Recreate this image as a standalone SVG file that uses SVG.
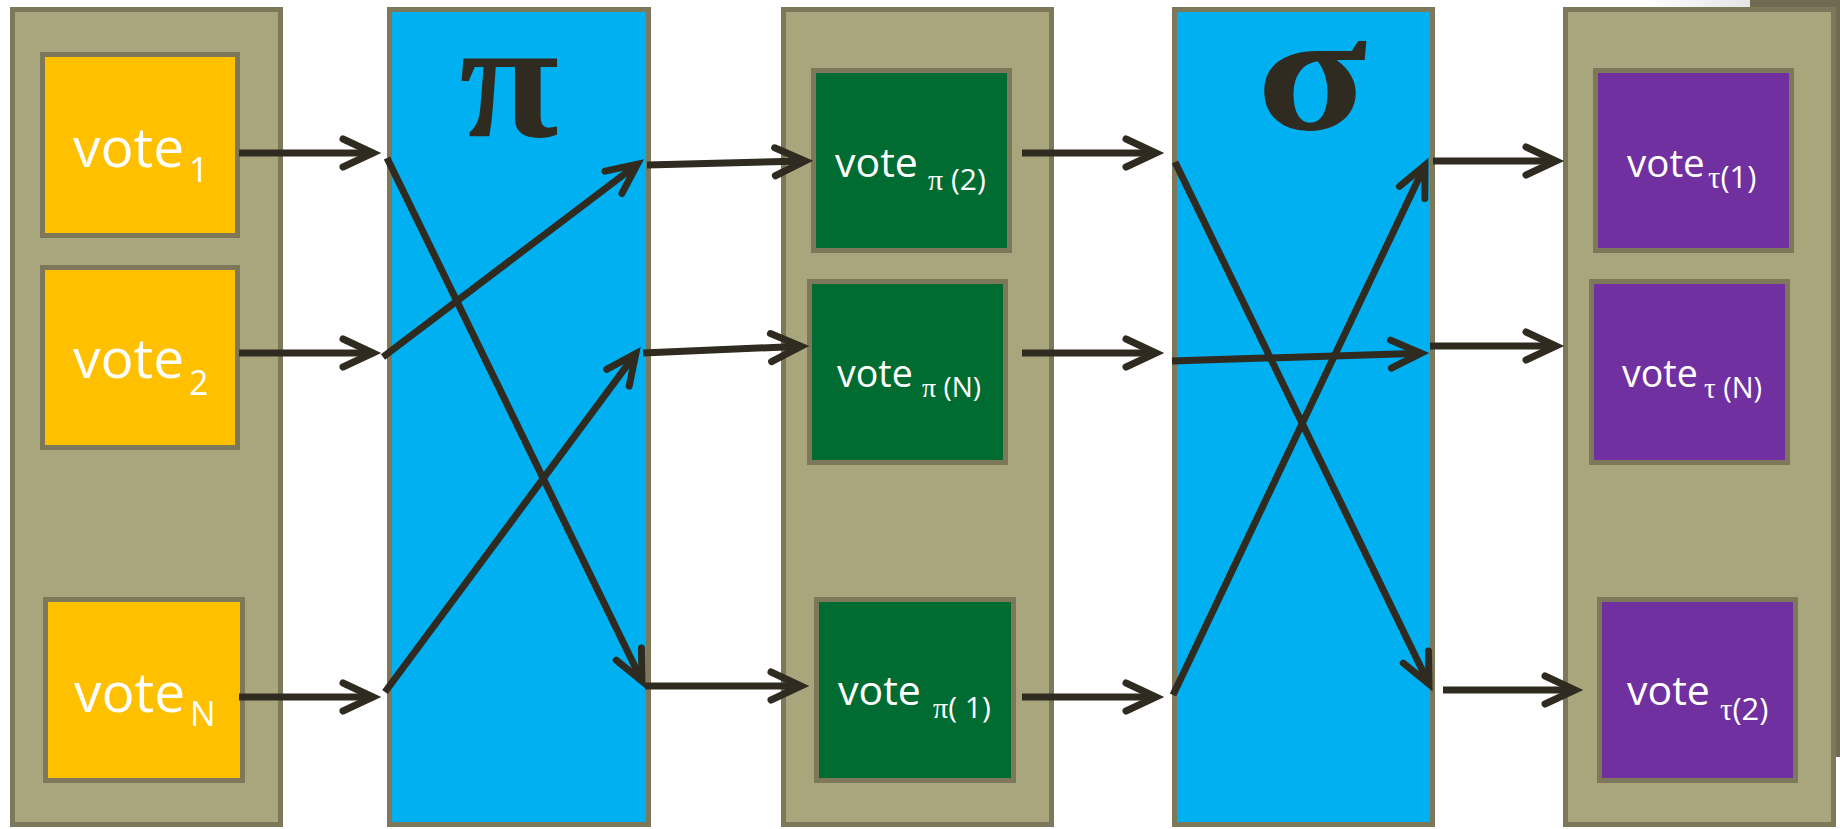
<svg xmlns="http://www.w3.org/2000/svg" width="1840" height="829" viewBox="0 0 1840 829">
  <defs>
    <style>
      .col { fill: #a9a57c; stroke: #7d785a; stroke-width: 5; }
      .perm { fill: #00b0f0; stroke: #7d785a; stroke-width: 5; }
      .box { stroke: #7d785a; stroke-width: 5; }
      .in { fill: #ffc000; }
      .mid { fill: #006c31; }
      .out { fill: #7030a0; }
      .lbl { font-family: "Open Sans", "Noto Sans", sans-serif; fill: #ffffff; }
      .big { font-size: 55px; }
      .sub1 { font-size: 34px; }
      .gk { font-family: "Liberation Serif", "DejaVu Serif", serif; }
      .sym { font-family: "Liberation Serif", "DejaVu Serif", serif; font-weight: bold; fill: #302b20; }
      .conn line { stroke: #302b20; stroke-width: 7; stroke-linecap: butt; marker-end: url(#head); }
    </style>
    <marker id="head" markerUnits="userSpaceOnUse" orient="auto" markerWidth="60" markerHeight="60" refX="0" refY="0" viewBox="-45 -30 60 60" overflow="visible">
      <path d="M-30,-14 L0,0 L-30,14" fill="none" stroke="#302b20" stroke-width="7" stroke-linecap="round" stroke-linejoin="miter"/>
    </marker>
    <linearGradient id="fade" x1="0" y1="0" x2="1" y2="0">
      <stop offset="0" stop-color="#ffffff"/>
      <stop offset="1" stop-color="#e4e4e4"/>
    </linearGradient>
  </defs>

  <rect x="0" y="0" width="1840" height="829" fill="#ffffff"/>

  <!-- backing panel behind the last column -->
  <rect x="1640" y="0" width="110" height="8" fill="url(#fade)"/>
  <rect x="1750" y="0" width="90" height="757" fill="#6f6a52"/>

  <!-- column of input votes -->
  <g id="inputs">
    <rect class="col" x="12.5" y="9.5" width="268" height="815"/>
  </g>
  <g id="vote1">
    <rect class="box in" x="42.5" y="54.5" width="195" height="181"/>
    <text class="lbl big" x="73" y="167">vote<tspan class="sub1" x="189" y="182">1</tspan></text>
  </g>
  <g id="vote2">
    <rect class="box in" x="42.5" y="267.5" width="195" height="180"/>
    <text class="lbl big" x="73" y="378">vote<tspan class="sub1" x="189" y="395">2</tspan></text>
  </g>
  <g id="voteN">
    <rect class="box in" x="45.5" y="599.5" width="197" height="181"/>
    <text class="lbl big" x="74" y="712">vote<tspan class="sub1" x="190" y="726">N</tspan></text>
  </g>

  <!-- first permutation -->
  <g id="pi">
    <rect class="perm" x="389.5" y="9.5" width="259" height="815"/>
    <text class="sym" x="509" y="136" font-size="170" text-anchor="middle" transform="translate(509 0) scale(1.07 1) translate(-509 0)">π</text>
  </g>

  <!-- column after the first permutation -->
  <g id="mixed">
    <rect class="col" x="783.5" y="9.5" width="268" height="815"/>
  </g>
  <g id="vote-pi2">
    <rect class="box mid" x="813.5" y="70.5" width="196" height="180"/>
    <text class="lbl" font-size="41" x="835" y="177">vote<tspan font-size="30" x="928" y="190"><tspan class="gk">π</tspan> (2)</tspan></text>
  </g>
  <g id="vote-piN">
    <rect class="box mid" x="809.5" y="281.5" width="196" height="181"/>
    <text class="lbl" font-size="37.5" x="837" y="387">vote<tspan font-size="28" x="922" y="397"><tspan class="gk">π</tspan> (N)</tspan></text>
  </g>
  <g id="vote-pi1">
    <rect class="box mid" x="816.5" y="599.5" width="197" height="181"/>
    <text class="lbl" font-size="41" x="838" y="705">vote<tspan font-size="30" x="933" y="718"><tspan class="gk">π</tspan>( 1)</tspan></text>
  </g>

  <!-- second permutation -->
  <g id="sigma">
    <rect class="perm" x="1174.5" y="9.5" width="258" height="815"/>
    <text class="sym" x="1312" y="129" font-size="170" text-anchor="middle" transform="translate(1312 0) scale(1.2 1) translate(-1312 0)">σ</text>
  </g>

  <!-- output column -->
  <g id="outputs">
    <rect class="col" x="1565.5" y="9.5" width="268" height="815"/>
  </g>
  <g id="vote-tau1">
    <rect class="box out" x="1595.5" y="70.5" width="196" height="180"/>
    <text class="lbl" font-size="38.5" x="1627" y="177">vote<tspan font-size="31" x="1708" y="188"><tspan class="gk">τ</tspan>(1)</tspan></text>
  </g>
  <g id="vote-tauN">
    <rect class="box out" x="1591.5" y="281.5" width="196" height="181"/>
    <text class="lbl" font-size="37.5" x="1622" y="387">vote<tspan font-size="29" x="1704" y="398"><tspan class="gk">τ</tspan> (N)</tspan></text>
  </g>
  <g id="vote-tau2">
    <rect class="box out" x="1599.5" y="599.5" width="196" height="181"/>
    <text class="lbl" font-size="41" x="1627" y="705">vote<tspan font-size="31" x="1720" y="720"><tspan class="gk">τ</tspan>(2)</tspan></text>
  </g>

  <!-- connectors -->
  <g id="connectors" class="conn">
    <line x1="239" y1="153" x2="373" y2="153"/>
    <line x1="239" y1="353" x2="373" y2="353"/>
    <line x1="239" y1="697" x2="373" y2="697"/>

    <line x1="387" y1="158" x2="642" y2="681"/>
    <line x1="383" y1="357" x2="637.4" y2="164.2"/>
    <line x1="385" y1="692" x2="635.8" y2="353.6"/>

    <line x1="647" y1="165" x2="805" y2="161"/>
    <line x1="643" y1="353" x2="801" y2="346.3"/>
    <line x1="645" y1="686" x2="801" y2="686"/>

    <line x1="1022" y1="153" x2="1156" y2="153"/>
    <line x1="1022" y1="353" x2="1156" y2="353"/>
    <line x1="1022" y1="697" x2="1156" y2="697"/>

    <line x1="1175" y1="162" x2="1429" y2="684"/>
    <line x1="1173" y1="695" x2="1425" y2="165.3"/>
    <line x1="1172" y1="361" x2="1421" y2="353.2"/>

    <line x1="1433" y1="161" x2="1556" y2="161"/>
    <line x1="1430" y1="346" x2="1556" y2="346"/>
    <line x1="1443" y1="690" x2="1575" y2="690"/>
  </g>
</svg>
